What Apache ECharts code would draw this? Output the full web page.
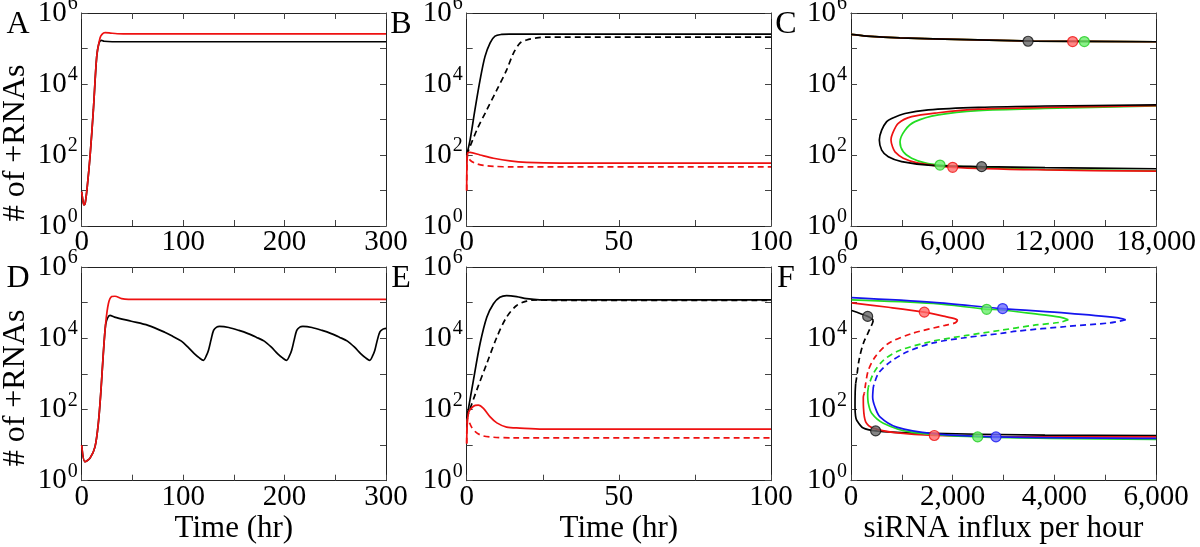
<!DOCTYPE html>
<html><head><meta charset="utf-8">
<script src="https://cdn.jsdelivr.net/npm/echarts@6/dist/echarts.min.js"></script>
<style>html,body{margin:0;padding:0;background:#fff}#c{width:1200px;height:547px}</style>
</head><body><div id="c"></div>
<script>
const FONT = 'Liberation Serif';

// ---------- Panel A (time course, 0-300 hr) ----------
const A_black = [[0,9.3],[1,5.6],[2.3,3.9],[3.5,4.5],[5.5,13],[8.2,89],[11.5,1860],[14.8,5.9e4],[17,1.4e5],[19.5,1.7e5],[22,1.6e5],[30,1.55e5],[300,1.55e5]];
const A_red = [[0,9.3],[1,5.6],[2.3,3.9],[3.5,4.5],[5.5,13],[8.2,89],[11.5,1860],[14.8,5.9e4],[18,1.95e5],[20,2.5e5],[23,2.8e5],[27,2.75e5],[35,2.6e5],[50,2.57e5],[300,2.57e5]];

// ---------- Panel B (time course, 0-100 hr) ----------
const B_black = [[0,100],[1.1,263],[2.7,1860],[4.4,1.3e4],[6.0,5.9e4],[7.7,1.45e5],[9.3,2.24e5],[11.5,2.5e5],[14,2.55e5],[100,2.55e5]];
const B_blackDash = [[0,100],[3.3,500],[6.6,1860],[9.9,6800],[13.1,2.45e4],[15.3,7.2e4],[17.5,1.41e5],[19.7,1.74e5],[23,2.0e5],[26.3,2.1e5],[100,2.1e5]];
const B_red = [[0,10],[0.3,115],[1.1,118],[4.4,100],[8.8,81],[14.2,68],[19.7,62],[30.7,59],[100,59]];
const B_redDash = [[0,10],[0.3,100],[1.1,72],[2.7,59],[5.5,51],[8.8,48],[15,46],[100,46]];

// ---------- Panel C (bifurcation, siRNA influx 0-18,000) ----------
const C_upper = [[0,2.5e5],[925,2.24e5],[2890,2.0e5],[6825,1.78e5],[10760,1.62e5],[18000,1.55e5]];
const C_black = [[18000,2570],[11450,2400],[7513,2190],[4563,1860],[3187,1480],[2400,1070],[2105,870],[1810,500],[1672,263],[1810,138],[2203,89],[2990,65],[4563,52],[7710,47],[11450,44],[18000,41]];
const C_red = [[18000,2450],[11450,2190],[7513,1950],[5153,1550],[3580,1200],[2790,776],[2450,400],[2360,263],[2450,170],[2597,123],[3087,81],[3972,59],[6000,45],[11450,38],[18000,35]];
const C_green = [[18000,2400],[11450,2040],[7513,1780],[5153,1350],[3777,870],[3187,500],[2892,234],[3087,123],[3580,81],[4367,60],[5253,52],[7000,46],[11450,39],[18000,36]];
const C_markBlack = [[10450,1.6e5],[7710,47]];
const C_markRed = [[13080,1.57e5],[6000,45]];
const C_markGreen = [[13770,1.57e5],[5253,52]];

// ---------- Panel D (time course, 0-300 hr) ----------
const D_red = [[0,10],[3.3,3.4],[8.2,4.3],[13.1,8.9],[16.4,41],[19,347],[21.3,3700],[23.6,2.57e4],[26.3,9.3e4],[29.6,1.48e5],[32.8,1.51e5],[39.4,1.29e5],[46,1.23e5],[300,1.23e5]];
const D_black = [[0,10],[3.3,3.4],[8.2,4.3],[13.1,8.9],[16.4,41],[19,347],[21.3,3700],[23.6,2.4e4],[25.5,3.7e4],[27.9,4.4e4],[32.4,3.9e4],[48.9,3.0e4],[65.4,2.3e4],[81.8,1.48e4],[90,1.12e4],[98.3,8300],[104.8,5600],[111,3700],[116,2800],[120,2400],[123,3300],[125,4600],[127.5,9000],[130,1.66e4],[133,2.05e4],[136,2.14e4],[145,2.0e4],[155,1.66e4],[164,1.35e4],[172,1.07e4],[180,8300],[187,5600],[193,3700],[198,2800],[202,2400],[205,3300],[207,4600],[209.5,9000],[212,1.66e4],[215,2.05e4],[218,2.14e4],[227,2.0e4],[237,1.66e4],[246,1.35e4],[254,1.07e4],[262,8300],[269,5600],[275,3700],[280,2800],[284,2400],[287,3300],[289,4600],[291.5,9000],[294,1.5e4],[297,1.8e4],[300,1.9e4]];

// ---------- Panel E (time course, 0-100 hr) ----------
const E_black = [[0,56],[2.2,660],[4.4,7100],[6.6,3.9e4],[8.8,9.3e4],[10.9,1.41e5],[13.1,1.58e5],[16.4,1.48e5],[19.7,1.29e5],[24,1.2e5],[100,1.2e5]];
const E_blackDash = [[0,56],[3.3,350],[6.6,1950],[9.9,1.07e4],[13.1,3.9e4],[16.4,8.3e4],[19.7,1.1e5],[23,1.2e5],[30,1.15e5],[100,1.15e5]];
const E_red = [[0,11],[0.55,78],[2.2,123],[3.8,132],[5.5,107],[7.7,62],[9.9,42],[13.1,32],[17.5,30],[25,28],[100,28]];
const E_redDash = [[0,11],[0.3,56],[1.6,32],[3.3,22],[5.5,18],[8.8,16.6],[15,16],[100,16]];

// ---------- Panel F (bifurcation, siRNA influx 0-6,000) ----------
const F_blackUp = [[13,6.0e4],[328,4.1e4],[400,3.6e4],[439,3.2e4]];
const F_blackMid = [[439,3.2e4],[420,2.6e4],[374,1.86e4],[242,7100],[157,2400],[112,810],[92,540]];
const F_blackLow = [[92,540],[82,300],[79,117],[90,65],[112,50],[242,30],[485,25],[1194,22],[3816,19],[6000,18.6]];
const F_redUp = [[13,9.8e4],[734,7.4e4],[1442,5.4e4],[1849,4.1e4],[2050,3.5e4],[2099,3.2e4]];
const F_redMid = [[2099,3.2e4],[2050,2.7e4],[1849,2.3e4],[1194,1.35e4],[734,7100],[472,2950],[341,1260],[289,537],[262,282]];
const F_redLow = [[262,282],[242,224],[245,117],[289,45],[439,30],[865,22.4],[1639,18.6],[3816,17],[6000,17]];
const F_greenUp = [[13,1.2e5],[1619,9.5e4],[2669,6.5e4],[2931,6.3e4],[3586,4.9e4],[4111,3.9e4],[4275,3.3e4]];
const F_greenMid = [[4275,3.3e4],[4111,2.8e4],[3586,2.3e4],[2931,1.66e4],[2276,1.2e4],[1619,8300],[964,4600],[636,2400],[439,1020],[341,427]];
const F_greenLow = [[341,427],[328,282],[341,148],[407,78],[636,41],[1160,23.4],[2492,17],[6000,14.5]];
const F_blueUp = [[13,1.38e5],[1619,1.02e5],[2983,6.8e4],[4243,5.1e4],[5226,3.8e4],[5403,3.3e4]];
const F_blueMid = [[5403,3.3e4],[5094,2.7e4],[4243,2.14e4],[3259,1.58e4],[2931,1.35e4],[2276,1.05e4],[1619,7400],[1095,4100],[767,2140],[537,1020],[439,427]];
const F_blueLow = [[439,427],[426,224],[472,117],[570,62],[898,32],[1619,21],[2852,17],[6000,15.5]];
const F_markBlack = [[328,4.1e4],[485,25]];
const F_markRed = [[1442,5.4e4],[1639,18.6]];
const F_markGreen = [[2669,6.5e4],[2492,17]];
const F_markBlue = [[2983,6.8e4],[2852,17]];

// ---------- Axes / labels ----------
const panelLetters = ['A','B','C','D','E','F'];
const xRanges = [[0,300,50,100],[0,100,25,50],[0,18000,3000,6000],[0,300,50,100],[0,100,25,50],[0,6000,1000,2000]];
const xNames = ['','','','Time (hr)','Time (hr)','siRNA influx per hour'];
const yName = '# of +RNAs';

const RED = '#ee1111', GREEN = '#22dd22', BLUE = '#1515ee', BLACK = '#000';

const grids = [
  {left:81.7, top:13, width:304.3, height:213},
  {left:466.7, top:13, width:304.3, height:213},
  {left:851, top:13, width:305, height:213},
  {left:81.7, top:267, width:304.3, height:213.7},
  {left:466.7, top:267, width:304.3, height:213.7},
  {left:851, top:267, width:305, height:213.7}
].map(g => Object.assign({outerBoundsMode:'none', containLabel:false}, g));

const xAxes = [], yAxes = [];
const fmtNum = v => Math.round(v).toLocaleString('en-US');
grids.forEach((g, gi) => {
  const [mn, mx, iv, step] = xRanges[gi];
  const base = {
    gridIndex: gi, type: 'value', min: mn, max: mx, interval: iv,
    axisLine: {show: true, onZero: false, lineStyle: {color: '#222', width: 1}},
    axisTick: {show: true, inside: true, length: 6, lineStyle: {color: '#444'}},
    splitLine: {show: false}
  };
  xAxes.push(Object.assign({}, base, {
    position: 'bottom',
    axisLabel: {show: true, margin: 2, fontSize: 29, fontFamily: FONT, color: '#000',
      showMinLabel: true, showMaxLabel: true,
      formatter: v => (Math.round(v) % step === 0 ? fmtNum(v) : '')},
    name: xNames[gi], nameLocation: 'middle', nameGap: 33,
    nameTextStyle: {fontSize: 31, fontFamily: FONT, color: '#000'}
  }));
  xAxes.push(Object.assign({}, base, {position: 'top', axisLabel: {show: false}}));
  const ybase = {
    gridIndex: gi, type: 'log', logBase: 10, min: 1, max: 1e6, splitNumber: 6,
    axisLine: {show: true, onZero: false, lineStyle: {color: '#222', width: 1}},
    axisTick: {show: true, inside: true, length: 6, lineStyle: {color: '#444'}},
    splitLine: {show: false}, minorTick: {show: false}
  };
  yAxes.push(Object.assign({}, ybase, {
    position: 'left',
    axisLabel: {show: true, margin: 4, color: '#000', showMinLabel: true, showMaxLabel: true,
      formatter: v => {
        const e = Math.round(Math.log10(v));
        return e % 2 ? '' : '{b|10}{s|' + e + '}';
      },
      rich: {
        b: {fontSize: 29, fontFamily: FONT, color: '#000'},
        s: {fontSize: 20, fontFamily: FONT, color: '#000', padding: [0, 0, 18, 1]}
      }}
  }));
  yAxes.push(Object.assign({}, ybase, {position: 'right', axisLabel: {show: false}}));
});

const series = [];
function line(gi, data, color, dashed) {
  series.push({
    type: 'line', xAxisIndex: gi * 2, yAxisIndex: gi * 2, data: data,
    symbol: 'none', showSymbol: false, smooth: 0.3, silent: true, animation: false,
    lineStyle: {color: color, width: 1.7, type: dashed ? [6, 4] : 'solid'}
  });
}
function marks(gi, data, fill, edge) {
  series.push({
    type: 'scatter', xAxisIndex: gi * 2, yAxisIndex: gi * 2, data: data,
    symbol: 'circle', symbolSize: 10, silent: true, animation: false, z: 5,
    itemStyle: {color: fill, borderColor: edge, borderWidth: 1.2}
  });
}
// A
line(0, A_black, BLACK); line(0, A_red, RED);
// B
line(1, B_black, BLACK); line(1, B_blackDash, BLACK, true);
line(1, B_red, RED); line(1, B_redDash, RED, true);
// C
line(2, C_upper, GREEN); line(2, C_upper, RED); line(2, C_upper, BLACK);
line(2, C_green, GREEN); line(2, C_red, RED); line(2, C_black, BLACK);
marks(2, C_markBlack, '#666', '#111'); marks(2, C_markRed, '#ff6a6a', '#ee1111'); marks(2, C_markGreen, '#6aee6a', '#22cc22');
// D
line(3, D_black, BLACK); line(3, D_red, RED);
// E
line(4, E_black, BLACK); line(4, E_blackDash, BLACK, true);
line(4, E_red, RED); line(4, E_redDash, RED, true);
// F
line(5, F_blackUp, BLACK); line(5, F_blackMid, BLACK, true); line(5, F_blackLow, BLACK);
line(5, F_redUp, RED); line(5, F_redMid, RED, true); line(5, F_redLow, RED);
line(5, F_greenUp, GREEN); line(5, F_greenMid, GREEN, true); line(5, F_greenLow, GREEN);
line(5, F_blueUp, BLUE); line(5, F_blueMid, BLUE, true); line(5, F_blueLow, BLUE);
marks(5, F_markBlack, '#666', '#111'); marks(5, F_markRed, '#ff6a6a', '#ee1111');
marks(5, F_markGreen, '#6aee6a', '#22cc22'); marks(5, F_markBlue, '#6a6aff', '#1515ee');

const letterPos = [[18,25],[401,25],[786,25],[18,279],[401,279],[786,279]];
const graphic = panelLetters.map((t, i) => ({
  type: 'text', x: letterPos[i][0], y: letterPos[i][1],
  style: {text: t, fontSize: 32, fontFamily: FONT, fill: '#000', align: 'center', verticalAlign: 'middle',
          textAlign: 'center', textVerticalAlign: 'middle'}
}));
[[16,143],[16,388]].forEach(p => graphic.push({
  type: 'text', x: p[0], y: p[1], rotation: Math.PI / 2,
  style: {text: yName, fontSize: 32, fontFamily: FONT, fill: '#000', align: 'center', verticalAlign: 'middle',
          textAlign: 'center', textVerticalAlign: 'middle'}
}));

const chart = echarts.init(document.getElementById('c'), null, {renderer: 'canvas'});
chart.setOption({
  animation: false,
  backgroundColor: '#fff',
  grid: grids, xAxis: xAxes, yAxis: yAxes, series: series, graphic: graphic
});
</script></body></html>
